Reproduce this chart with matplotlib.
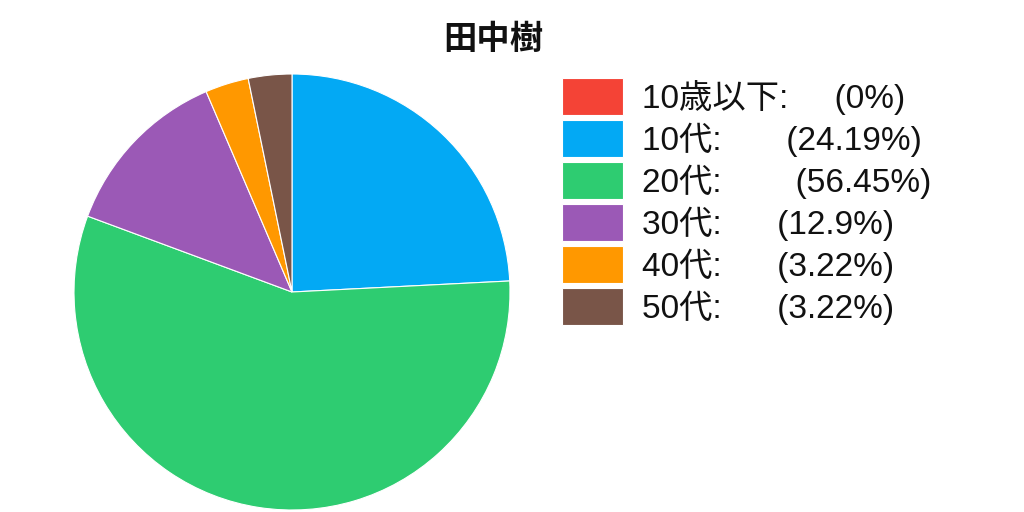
import matplotlib
matplotlib.use("Agg")
import matplotlib.pyplot as plt

plt.rcParams['font.family'] = ['Liberation Sans', 'Noto Sans CJK JP', 'DejaVu Sans']

title = "田中樹"
categories = ["10歳以下", "10代", "20代", "30代", "40代", "50代"]
values = [0, 24.19, 56.45, 12.9, 3.22, 3.22]
pct_labels = ["(0%)", "(24.19%)", "(56.45%)", "(12.9%)", "(3.22%)", "(3.22%)"]
pad_spaces = [5, 7, 8, 6, 6, 6]
colors = ["#F44336", "#03A9F4", "#2ECC71", "#9B59B6", "#FF9800", "#795548"]

W, H = 1024, 512
fig = plt.figure(figsize=(W / 100, H / 100), dpi=100)
cx, cy, r = 292, 292, 218
ax = fig.add_axes([(cx - r) / W, (H - cy - r) / H, 2 * r / W, 2 * r / H])
wedges, _ = ax.pie(values, colors=colors, startangle=90, counterclock=False,
                   radius=1.0, wedgeprops=dict(edgecolor="white", linewidth=0.8))
ax.set_xlim(-1, 1)
ax.set_ylim(-1, 1)
ax.set_aspect("equal")
ax.axis("off")

fig.text(493 / W, 1 - 40 / H, title, ha="center", va="center",
         fontsize=24, fontweight="bold", color="#111111",
         family=['Noto Sans CJK JP', 'DejaVu Sans'])

labels = [f"{c}:" + " " * n + p for c, n, p in zip(categories, pad_spaces, pct_labels)]
leg = fig.legend(wedges, labels, loc="upper left",
                 bbox_to_anchor=(539 / W, 1 - 55 / H), frameon=False,
                 fontsize=24, handlelength=1.83, handleheight=1.3,
                 labelspacing=0.17, handletextpad=0.57, borderpad=0.2)
for t in leg.get_texts():
    t.set_color("#111111")

fig.savefig("out.png", dpi=100, facecolor="white")
